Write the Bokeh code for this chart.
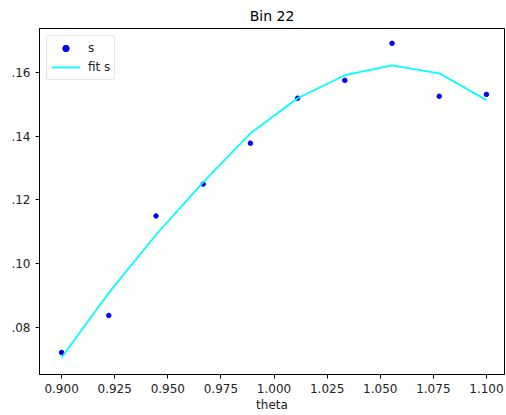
from bokeh.plotting import figure
from bokeh.models import FixedTicker, Range1d, Legend, LegendItem
from bokeh.embed import file_html
from bokeh.resources import INLINE

theta = [0.9, 0.92222, 0.94444, 0.96667, 0.98889, 1.01111, 1.03333, 1.05556, 1.07778, 1.1]
s_vals = [0.0722, 0.0838, 0.1150, 0.1250, 0.1378, 0.1519, 0.1575, 0.1691, 0.1525, 0.1531]
fit_vals = [0.0706, 0.0909, 0.1091, 0.1256, 0.1409, 0.1519, 0.1591, 0.1622, 0.1597, 0.1513]
x_ticks = [0.9, 0.925, 0.95, 0.975, 1.0, 1.025, 1.05, 1.075, 1.1]
y_ticks = [0.08, 0.10, 0.12, 0.14, 0.16]
y_tick_labels = [".08", ".10", ".12", ".14", ".16"]

FONT = "DejaVu Sans"

p = figure(width=505, height=414, output_backend="svg", toolbar_location=None,
           title="Bin 22", x_range=Range1d(0.8896, 1.1085), y_range=Range1d(0.0653, 0.17375),
           min_border_left=39, min_border_right=1, min_border_top=27, min_border_bottom=39)

p.title.align = "center"
p.title.text_font = FONT
p.title.text_font_size = "14px"
p.title.text_font_style = "normal"
p.title.text_color = "black"

p.xgrid.visible = False
p.ygrid.visible = False
p.outline_line_color = "black"
p.outline_line_width = 1
p.background_fill_color = "white"
p.border_fill_color = "white"

for ax in (p.xaxis[0], p.yaxis[0]):
    ax.major_label_text_font = FONT
    ax.major_label_text_font_size = "12px"
    ax.major_label_text_color = "#222222"
    ax.major_tick_in = 0
    ax.major_tick_out = 4
    ax.minor_tick_line_color = None
    ax.axis_line_color = "black"
    ax.major_tick_line_color = "black"

p.xaxis.ticker = FixedTicker(ticks=x_ticks)
p.xaxis.major_label_overrides = {t: f"{t:.3f}" for t in x_ticks}
p.yaxis.ticker = FixedTicker(ticks=y_ticks)
p.yaxis.major_label_overrides = {t: l for t, l in zip(y_ticks, y_tick_labels)}
p.xaxis.axis_label = "theta"
p.xaxis.axis_label_text_font = FONT
p.xaxis.axis_label_text_font_size = "12px"
p.xaxis.axis_label_text_font_style = "normal"
p.xaxis.axis_label_text_color = "#222222"
p.xaxis.axis_label_standoff = 2

sc = p.scatter(theta, s_vals, size=4.5, color="blue")
ln = p.line(theta, fit_vals, line_color="cyan", line_width=1.8)

legend = Legend(items=[LegendItem(label="s", renderers=[sc]),
                       LegendItem(label="fit s", renderers=[ln])],
                location="top_left")
legend.margin = 7
legend.padding = 4
legend.spacing = 3
legend.glyph_width = 29
legend.glyph_height = 16
legend.label_height = 16
legend.label_standoff = 8
legend.label_text_font = FONT
legend.label_text_font_size = "12px"
legend.label_text_color = "#222222"
legend.border_line_color = "#cccccc"
legend.background_fill_alpha = 0.8
legend.border_radius = 3
p.add_layout(legend)

open("out.html", "w").write(file_html(p, INLINE))
